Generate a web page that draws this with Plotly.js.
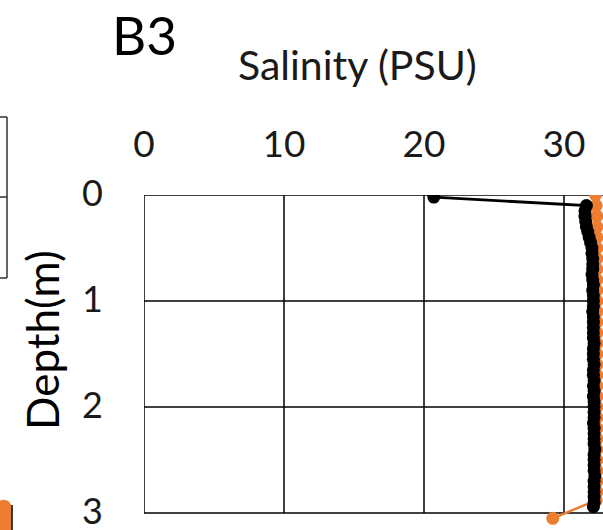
<!DOCTYPE html>
<html>
<head>
<meta charset="utf-8">
<script src="https://cdn.plot.ly/plotly-3.0.1.min.js"></script>
<style>
html,body{margin:0;padding:0;overflow:hidden;background:#fff;}
#chart{width:720px;height:530px;}
</style>
</head>
<body>
<div id="chart"></div>
<script>
// Black profile (station B3): depth (m) and salinity (PSU)
var blackDepth = [0.02,0.10,0.15,0.20,0.25,0.30,0.35,0.40,0.45,0.50,0.55,0.60,0.65,0.70,0.75,0.80,0.85,0.90,0.95,1.00,
  1.05,1.10,1.15,1.20,1.25,1.30,1.35,1.40,1.45,1.50,1.55,1.60,1.65,1.70,1.75,1.80,1.85,1.90,1.95,2.00,
  2.05,2.10,2.15,2.20,2.25,2.30,2.35,2.40,2.45,2.50,2.55,2.60,2.65,2.70,2.75,2.80,2.85,2.90,2.94];
var blackSal = [20.7,31.6,31.5,31.5,31.55,31.6,31.7,31.8,31.9,32.0,32.0,32.05,32.05,32.05,32.0,32.05,32.1,32.05,32.1,32.1,
  32.1,32.05,32.1,32.1,32.1,32.1,32.1,32.15,32.1,32.1,32.1,32.15,32.1,32.1,32.15,32.1,32.15,32.1,32.15,32.15,
  32.15,32.15,32.1,32.15,32.15,32.15,32.15,32.2,32.15,32.15,32.15,32.15,32.2,32.15,32.15,32.15,32.15,32.15,32.1];
// Orange profile
var orangeDepth = [0.00,0.10,0.20,0.30,0.40,0.50,0.60,0.70,0.80,0.90,1.00,1.10,1.20,1.30,1.40,1.50,1.60,1.70,1.80,1.90,
  2.00,2.10,2.20,2.30,2.40,2.50,2.60,2.70,2.80,2.88,3.05];
var orangeSal = [32.25,32.3,32.35,32.35,32.35,32.35,32.35,32.35,32.35,32.35,32.35,32.35,32.35,32.35,32.35,32.35,32.35,32.35,32.35,32.35,
  32.35,32.35,32.35,32.35,32.35,32.35,32.35,32.35,32.35,32.3,29.2];
var xTicks = [0,10,20,30,40];
var yTicks = [0,1,2,3];
var xMin = 0, xMax = 40, yMin = 0, yMax = 3;

var FONT = 'Lato, "Open Sans", sans-serif';
var traces = [
  {x: orangeSal, y: orangeDepth, type: 'scatter', mode: 'lines+markers',
   line: {color: '#ED7D31', width: 2.5}, marker: {color: '#ED7D31', size: 13}, showlegend: false},
  {x: blackSal, y: blackDepth, type: 'scatter', mode: 'lines+markers',
   line: {color: '#000000', width: 2.8}, marker: {color: '#000000', size: 13}, showlegend: false}
];
// plot frame: x 144..704 px, y 0 at 195 px, y 3 at 513 px; area extended to bottom of page
var H = 530, T = 195, B0 = 513;
var pxPerM = (B0 - T) / (yMax - yMin);
var yBottom = yMax + (H - B0) / pxPerM;
function px(x){return (x-144)/560;}
function py(y){return (H-y)/(H-T);}
var shapes = [];
xTicks.forEach(function(v){
  shapes.push({type:'line', xref:'x', yref:'y', x0:v, x1:v, y0:yMin, y1:yMax, line:{color:'#000', width:1.5}, layer:'below'});
});
yTicks.forEach(function(v){
  shapes.push({type:'line', xref:'x', yref:'y', x0:xMin, x1:xMax, y0:v, y1:v, line:{color:'#000', width:1.5}, layer:'below'});
});
// fragments of the neighbouring panel at the left edge
shapes.push({type:'line', xref:'paper', yref:'paper', x0:px(7), x1:px(7), y0:py(117), y1:py(278), line:{color:'#333', width:1.5}});
[117,197,278].forEach(function(v){
  shapes.push({type:'line', xref:'paper', yref:'paper', x0:px(-3), x1:px(7), y0:py(v), y1:py(v), line:{color:'#333', width:1.5}});
});
shapes.push({type:'path', xref:'paper', yref:'paper',
  path: 'M '+px(-3)+' '+py(535)+' L '+px(-3)+' '+py(505)+' Q '+px(-1)+' '+py(499)+' '+px(5)+' '+py(500)+
        ' Q '+px(11)+' '+py(501)+' '+px(11.5)+' '+py(507)+' L '+px(11.5)+' '+py(535)+' Z',
  fillcolor:'#ED7D31', line:{width:0}});
shapes.push({type:'line', xref:'paper', yref:'paper', x0:px(12), x1:px(12), y0:py(505), y1:py(535), line:{color:'#000', width:1.5}});

var layout = {
  width: 720, height: H,
  margin: {l: 144, r: 16, t: T, b: 0},
  paper_bgcolor: '#fff', plot_bgcolor: 'rgba(0,0,0,0)',
  font: {family: FONT, color: '#1a1a1a', size: 37},
  xaxis: {range: [xMin, xMax], side: 'top', tickvals: xTicks, ticktext: xTicks.map(String),
    showgrid: false, zeroline: false, showline: false,
    ticks: '', ticklabelstandoff: 30, tickfont: {size: 37, family: FONT, color: '#1a1a1a'}},
  yaxis: {range: [yBottom, yMin], tickvals: yTicks, ticktext: yTicks.map(String),
    showgrid: false, zeroline: false, showline: false, ticklabeloverflow: 'allow',
    ticks: '', ticklabelstandoff: 40, ticklabelshift: 2, tickfont: {size: 36, family: FONT, color: '#1a1a1a'}},
  annotations: [
    {text: 'B3', xref: 'paper', yref: 'paper', x: px(144), y: py(35), showarrow: false,
     xanchor: 'center', yanchor: 'middle', font: {size: 53, family: FONT, color: '#000'}},
    {text: 'Salinity (PSU)', xref: 'paper', yref: 'paper', x: px(357), y: py(64), showarrow: false,
     xanchor: 'center', yanchor: 'middle', font: {size: 41, family: FONT, color: '#1a1a1a'}},
    {text: 'Depth(m)', xref: 'paper', yref: 'paper', x: px(42), y: py(340), showarrow: false, textangle: -90,
     xanchor: 'center', yanchor: 'middle', font: {size: 44, family: FONT, color: '#000'}}
  ],
  shapes: shapes
};
Plotly.newPlot('chart', traces, layout, {displayModeBar: false, staticPlot: true});
</script>
</body>
</html>
